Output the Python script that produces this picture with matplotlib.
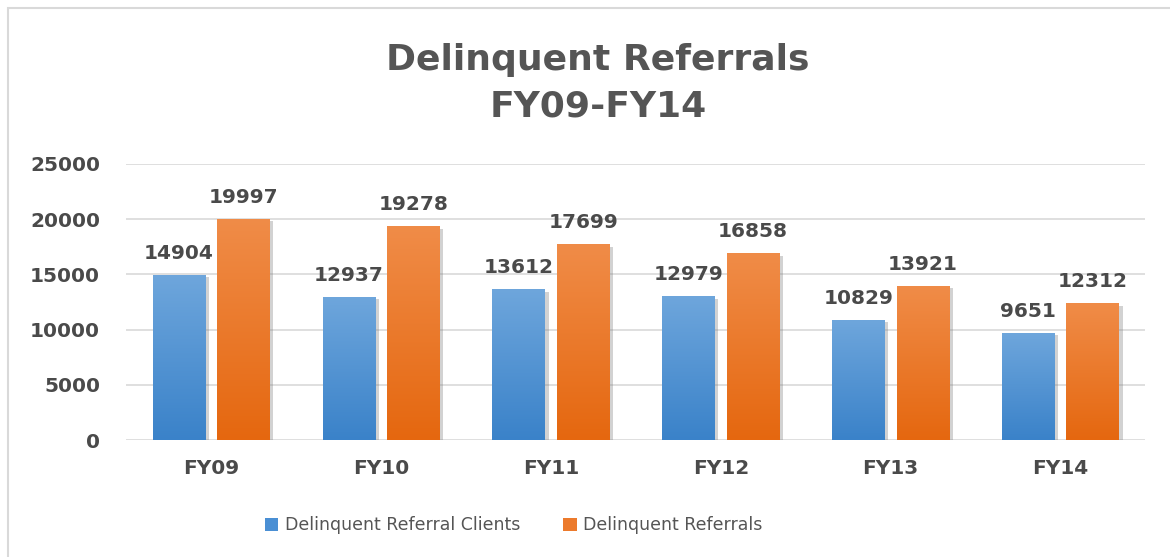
import matplotlib.pyplot as plt
import matplotlib.patheffects as pe
import numpy as np
from matplotlib.colors import LinearSegmentedColormap
from matplotlib.patches import Patch, Rectangle

# chart data
years = ['FY09', 'FY10', 'FY11', 'FY12', 'FY13', 'FY14']
clients = [14904, 12937, 13612, 12979, 10829, 9651]
referrals = [19997, 19278, 17699, 16858, 13921, 12312]
yticks = [0, 5000, 10000, 15000, 20000, 25000]
series_names = ['Delinquent Referral Clients', 'Delinquent Referrals']

TEXT = '#4a4a4a'
BLUE_TOP, BLUE_BOT = '#6ea6dc', '#3a82c9'
ORANGE_TOP, ORANGE_BOT = '#f08c48', '#e5670f'

fig = plt.figure(figsize=(11.7, 5.57), dpi=100)
ax = fig.add_axes([0.108, 0.210, 0.871, 0.496])

x = np.arange(len(years))
width = 0.31
offset = 0.19
grad = np.linspace(0, 1, 256).reshape(-1, 1)


def gradient_bars(xpos, vals, top, bottom):
    shadow = [pe.SimplePatchShadow(offset=(2.5, -1.5), shadow_rgbFace='#7f7f7f', alpha=0.35),
              pe.Normal()]
    bars = ax.bar(xpos, vals, width, color=bottom, zorder=2, path_effects=shadow)
    cmap = LinearSegmentedColormap.from_list('g', [bottom, top])
    for b in bars:
        ax.imshow(grad, cmap=cmap, origin='lower', aspect='auto', zorder=3,
                  extent=[b.get_x(), b.get_x() + b.get_width(), 0, b.get_height()])
    for xp, v in zip(xpos, vals):
        ax.annotate(str(v), (xp, v), xytext=(0, 9), textcoords='offset points',
                    ha='center', va='bottom', fontsize=14.5, fontweight='bold', color=TEXT)


gradient_bars(x - offset, clients, BLUE_TOP, BLUE_BOT)
gradient_bars(x + offset, referrals, ORANGE_TOP, ORANGE_BOT)

ax.set_xlim(-0.5, len(years) - 0.5)
ax.set_ylim(0, 25000)
ax.set_yticks(yticks)
ax.set_yticklabels([str(t) for t in yticks], fontsize=14.5, fontweight='bold', color=TEXT)
ax.set_xticks(x)
ax.set_xticklabels(years, fontsize=14.5, fontweight='bold', color=TEXT)
ax.tick_params(axis='y', length=0, pad=19)
ax.tick_params(axis='x', length=0, pad=14)
ax.grid(axis='y', color='#d9d9d9', linewidth=1.2, zorder=0)
ax.set_axisbelow(True)
for s in ax.spines.values():
    s.set_visible(False)

# title
fig.text(0.511, 0.892, 'Delinquent Referrals', ha='center', va='center',
         fontsize=26, fontweight='bold', color='#555555')
fig.text(0.511, 0.808, 'FY09-FY14', ha='center', va='center',
         fontsize=26, fontweight='bold', color='#555555')

# legend
handles = [Patch(facecolor='#4a8fd4', edgecolor='none'),
           Patch(facecolor='#ec7a2c', edgecolor='none')]
fig.legend(handles, series_names, loc='center', bbox_to_anchor=(0.439, 0.057), ncol=2,
           frameon=False, fontsize=12.5, labelcolor='#555555',
           handlelength=0.8, handleheight=0.8, handletextpad=0.35, columnspacing=2.5)

# outer frame of the chart area
fig.add_artist(Rectangle((8 / 1170, -0.1), 1.2, 0.9856 + 0.1, transform=fig.transFigure,
                         fill=False, edgecolor='#d9d9d9', linewidth=1.5, clip_on=False))

fig.savefig('out.png', dpi=100)
